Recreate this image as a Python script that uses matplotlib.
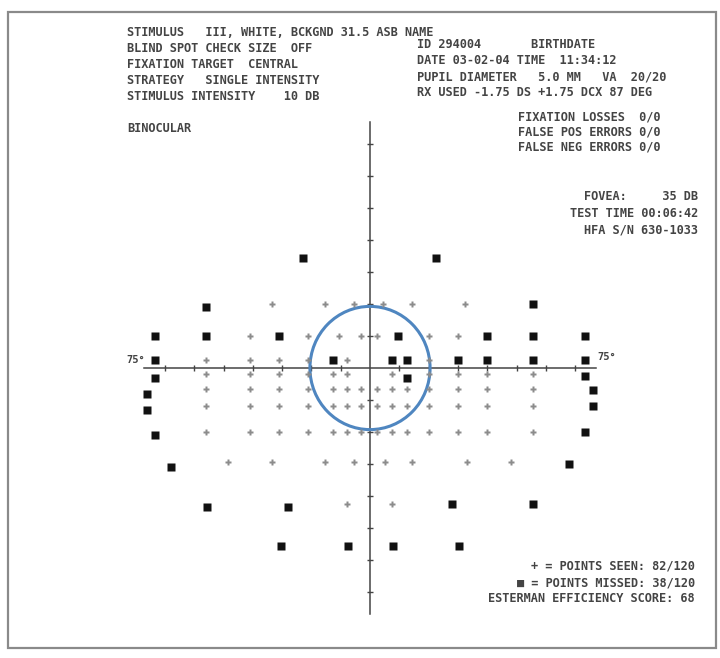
import matplotlib
matplotlib.use("Agg")
import matplotlib.pyplot as plt
from matplotlib.patches import Ellipse, Rectangle

# visual field points, degrees (x: left/right, y: up/down)
seen_x = [-33.5, -15.5, -5.5, 4.5, 14.5, 32.5,
          -41, -21, -10.5, -3, 2.5, 20, 30,
          -56, -41, -31, -21, -8, 20,
          -56, -41, -31, -21, -12.5, -8, 7.5, 20, 30, 40, 55.5,
          -56, -41, -31, -21, -12.5, -8, -3, 2.5, 7.5, 12.5, 20, 30, 40, 55.5,
          -56, -41, -31, -21, -12.5, -8, -3, 2.5, 7.5, 12.5, 20, 30, 40, 55.5,
          -56, -41, -31, -21, -12.5, -8, -3, 2.5, 7.5, 12.5, 20, 30, 40, 55.5,
          -48.5, -33.5, -15.5, -5.5, 5, 14.5, 33, 48,
          -8, 7.5]
seen_y = ([20] * 6 + [10] * 7 + [2.5] * 6 + [-2] * 11 + [-6.5] * 14
          + [-12] * 14 + [-20] * 14 + [-29.5] * 8 + [-42.5] * 2)

missed_x = [-23, 22.5,
            -56, 55.5,
            -73.5, -56, -31, 9.5, 40, 55.5, 73.5,
            -73.5, -12.5, 7.5, 12.5, 30, 40, 55.5, 73.5,
            -73.5, 12.5, 73.5,
            -76, 76,
            -76, 76,
            -73.5, 73.5,
            -68, 68,
            -55.5, -28, 28, 55.5,
            -30.5, -7.5, 8, 30.5]
missed_y = [34.5, 34.5,
            19, 20,
            10, 10, 10, 10, 10, 10, 10,
            2.5, 2.5, 2.5, 2.5, 2.5, 2.5, 2.5, 2.5,
            -3, -3, -2.5,
            -8, -7,
            -13, -12,
            -21, -20,
            -31, -30,
            -43.5, -43.5, -42.5, -42.5,
            -55.5, -55.5, -55.5, -55.5]

tick_deg = [-70, -60, -50, -40, -30, -20, -10, 10, 20, 30, 40, 50, 60, 70]

header_left = ["STIMULUS   III, WHITE, BCKGND 31.5 ASB NAME",
               "BLIND SPOT CHECK SIZE  OFF",
               "FIXATION TARGET  CENTRAL",
               "STRATEGY   SINGLE INTENSITY",
               "STIMULUS INTENSITY    10 DB"]
header_right = ["ID 294004       BIRTHDATE",
                "DATE 03-02-04 TIME  11:34:12",
                "PUPIL DIAMETER   5.0 MM   VA  20/20",
                "RX USED -1.75 DS +1.75 DCX 87 DEG"]
reliability = ["FIXATION LOSSES  0/0",
               "FALSE POS ERRORS 0/0",
               "FALSE NEG ERRORS 0/0"]
test_info = ["FOVEA:     35 DB",
             "TEST TIME 00:06:42",
             "HFA S/N 630-1033"]
legend_lines = ["+ = POINTS SEEN: 82/120",
                "\u25a0 = POINTS MISSED: 38/120",
                "ESTERMAN EFFICIENCY SCORE: 68"]

W, H = 720, 658
fig = plt.figure(figsize=(W / 100, H / 100), dpi=100)
fig.patch.set_facecolor("white")

# axes placed so the field centre lands at (370, 368) px
ax = fig.add_axes([(370 - 80 * 2.93) / W, (H - 368 - 80 * 3.2) / H,
                   160 * 2.93 / W, 160 * 3.2 / H])
ax.set_xlim(-80, 80)
ax.set_ylim(-80, 80)
ax.axis("off")

ax.plot([-77, 77], [0, 0], color="#444444", lw=1.1, zorder=1)
ax.plot([0, 0], [-77, 77], color="#444444", lw=1.1, zorder=1)
ax.plot(tick_deg, [0] * len(tick_deg), "|", color="#444444", ms=5, mew=1.0, zorder=1)
ax.plot([0] * len(tick_deg), tick_deg, "_", color="#444444", ms=5, mew=1.0, zorder=1)

ax.add_patch(Ellipse((0, 0), 41, 38.5, fill=False, ec="#4f86c0", lw=2.2, zorder=2))

ax.plot(seen_x, seen_y, "P", ms=3.8, color="#8c8c8c", mec="none", zorder=3)
ax.plot(missed_x, missed_y, "s", ms=5.2, color="#111111", mec="none", zorder=3)


def txt(x, y, s, ha="left", size=8.6):
    fig.text(x / W, 1 - y / H, s, ha=ha, va="center", fontsize=size,
             family="DejaVu Sans Mono", weight="bold", color="#444444")


for i, s in enumerate(header_left):
    txt(127, 32 + i * 16, s)
txt(127, 128, "BINOCULAR")
for i, s in enumerate(header_right):
    txt(417, 45 + i * 16, s)
for i, s in enumerate(reliability):
    txt(518, 117 + i * 15, s)
for i, s in enumerate(test_info):
    txt(698, 197 + i * 16.5, s, ha="right")
for i, s in enumerate(legend_lines):
    txt(695, 566 + i * 16.5, s, ha="right")

txt(145, 360, "75\u00b0", ha="right", size=7.5)
txt(597, 357, "75\u00b0", size=7.5)

fig.add_artist(Rectangle((8 / W, 1 - 648 / H), 708 / W, 636 / H,
                         transform=fig.transFigure, fill=False,
                         ec="#8a8a8a", lw=1.6))

fig.savefig("out.png", dpi=100)
